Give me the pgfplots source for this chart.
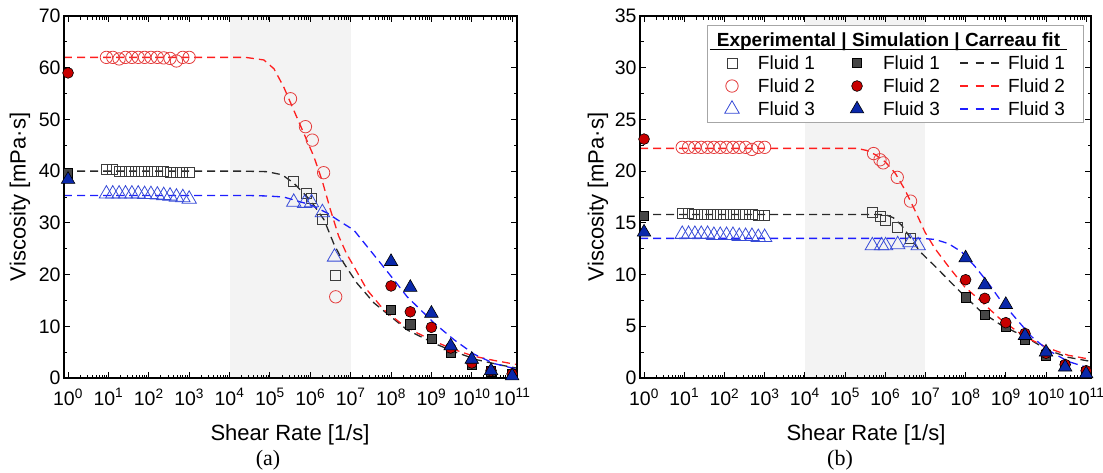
\documentclass[border=0pt]{standalone}
\usepackage{pgfplots}
\pgfplotsset{compat=1.18}
\usepackage{fontspec}
\setmainfont{Liberation Sans}
\newfontfamily\seriffont{Liberation Serif}
\newcommand\tickfont{\fontsize{19.5}{22}\selectfont}
\newcommand\legfont{\fontsize{19}{22}\selectfont}
\newcommand\labfont{\fontsize{22}{26}\selectfont}

\definecolor{expgray}{RGB}{60,60,60}
\definecolor{expred}{RGB}{228,60,60}
\definecolor{expblue}{RGB}{55,75,215}
\definecolor{simgray}{RGB}{70,70,70}
\definecolor{simred}{RGB}{200,0,0}
\definecolor{simblue}{RGB}{10,40,170}
\definecolor{fitblack}{RGB}{40,40,40}
\definecolor{fitred}{RGB}{255,30,30}
\definecolor{fitblue}{RGB}{30,30,255}
\definecolor{bandgray}{RGB}{243,243,243}

\pgfplotsset{
 myfit/.style={line width=1.3pt, dash pattern=on 8pt off 5pt, forget plot, mark=none},
 myexpA/.style={only marks, forget plot, mark=square, mark size=5pt, expgray, mark options={line width=0.8pt, solid}},
 myexpB/.style={only marks, forget plot, mark=o, mark size=6.2pt, expred, mark options={line width=0.8pt, solid}},
 myexpC/.style={only marks, forget plot, mark=triangle, mark size=8.3pt, expblue, mark options={line width=0.8pt, solid}},
 mysimA/.style={only marks, forget plot, mark=square*, mark size=4.6pt, mark options={draw=black, fill=simgray, line width=0.6pt, solid}},
 mysimB/.style={only marks, forget plot, mark=*, mark size=5.4pt, mark options={draw=black, fill=simred, line width=0.6pt, solid}},
 mysimC/.style={only marks, forget plot, mark=triangle*, mark size=7.8pt, mark options={draw=black, fill=simblue, line width=0.6pt, solid}},
 mylegA/.style={legend image code/.code={\path[draw=none,fill=none] (0pt,-9pt) rectangle (36pt,9pt);\draw[##1] plot coordinates {(10pt,0pt)};}},
 mylegB/.style={legend image code/.code={\path[draw=none,fill=none] (0pt,-9pt) rectangle (68pt,9pt);\draw[##1] plot coordinates {(42pt,0pt)};}},
 mylegC/.style={legend image code/.code={\path[draw=none,fill=none] (0pt,-9pt) rectangle (68pt,9pt);\draw[##1,fill=none] (20pt,0pt) -- (63pt,0pt);}},
}

\begin{document}
\begin{tikzpicture}
\useasboundingbox (0pt,0pt) rectangle (1103pt,472pt);

% ================= (a) =================
\begin{axis}[scale only axis, height=362pt, width=453pt,
  xmode=log, xmin=0.794, xmax=1.318e11, ymin=0, ymax=70,
  at={(64pt,94pt)}, anchor=south west,
  axis on top,
  xtick={1,10,100,1000,1e4,1e5,1e6,1e7,1e8,1e9,1e10,1e11},
  xticklabels={10\textsuperscript{0},10\textsuperscript{1},10\textsuperscript{2},10\textsuperscript{3},10\textsuperscript{4},10\textsuperscript{5},10\textsuperscript{6},10\textsuperscript{7},10\textsuperscript{8},10\textsuperscript{9},10\textsuperscript{10},10\textsuperscript{11}},
  minor xtick={2,3,4,5,6,7,8,9,20,30,40,50,60,70,80,90,200,300,400,500,600,700,800,900,2e3,3e3,4e3,5e3,6e3,7e3,8e3,9e3,2e4,3e4,4e4,5e4,6e4,7e4,8e4,9e4,2e5,3e5,4e5,5e5,6e5,7e5,8e5,9e5,2e6,3e6,4e6,5e6,6e6,7e6,8e6,9e6,2e7,3e7,4e7,5e7,6e7,7e7,8e7,9e7,2e8,3e8,4e8,5e8,6e8,7e8,8e8,9e8,2e9,3e9,4e9,5e9,6e9,7e9,8e9,9e9,2e10,3e10,4e10,5e10,6e10,7e10,8e10,9e10},
  ytick={0,10,20,30,40,50,60,70}, minor ytick={5,15,25,35,45,55,65},
  tick align=inside,
  major tick length=6pt, minor tick length=3.5pt,
  tick style={black, line width=0.9pt},
  axis line style={line width=1.3pt},
  ticklabel style={font=\tickfont},
  xticklabel style={yshift=-7pt},
  yticklabel style={/pgf/number format/assume math mode=true}]
\fill[bandgray] (axis cs:1e4,0) rectangle (axis cs:1e7,70);

\addplot[myfit, fitblack] coordinates {(0.794,40.0) (1.995e4,40.0) (8.51e4,39.9) (1.995e5,39.3) (3.89e5,37.7) (1e6,34.4) (2.19e6,30.6) (3.80e6,26.0) (6.76e6,22.2) (1.445e7,18.3) (3.80e7,14.5) (9.77e7,11.9) (2.512e8,9.3) (1.175e9,6.7) (3.631e9,5.1) (1.380e10,3.5) (5.248e10,2.5) (1.318e11,1.9)};
\addplot[myfit, fitred] coordinates {(0.794,62.0) (2.512e4,62.0) (7.08e4,61.5) (1.259e5,59.8) (2.19e5,56.3) (3.89e5,51.8) (6.92e5,47.3) (1.23e6,42.8) (1.995e6,38.0) (3.162e6,32.5) (5.012e6,27.5) (7.943e6,24.0) (1.259e7,21.3) (2.570e7,17.0) (6.607e7,13.2) (1.738e8,10.6) (4.467e8,8.7) (1.175e9,7.1) (3.631e9,5.5) (1.148e10,4.2) (3.548e10,3.4) (1.318e11,2.6)};
\addplot[myfit, fitblue] coordinates {(0.794,35.3) (2.512e4,35.3) (8.51e4,35.2) (2.19e5,35.0) (1e6,33.5) (2.63e6,31.9) (5.62e6,30.2) (1.202e7,28.6) (2.57e7,25.4) (5.50e7,22.2) (1.175e8,19.0) (2.512e8,15.7) (5.37e8,13.2) (1.175e9,10.6) (3.631e9,7.4) (1.148e10,4.6) (3.548e10,2.8) (1.318e11,1.7)};

\addplot[myexpA] coordinates {(8.91,40.3) (12.8,40.3) (18.4,40.0) (26.5,40.0) (38.1,40.0) (54.7,40.0) (78.7,40.0) (113,40.0) (163,40.0) (234,40.0) (336,39.8) (484,39.7) (696,39.7) (1000,39.7) (3.89e5,38.0) (8.13e5,35.6) (1.072e6,34.8) (1.995e6,30.6) (4.169e6,19.8)};
\addplot[myexpB] coordinates {(8.91,62.0) (12.8,62.0) (18.4,61.7) (26.5,62.0) (38.1,62.0) (54.7,62.0) (78.7,62.0) (113,62.0) (163,62.0) (234,61.9) (336,61.8) (484,61.3) (696,62.0) (1000,62.0) (3.236e5,54.0) (7.586e5,48.6) (1.122e6,46.0) (2.138e6,39.7) (4.266e6,15.7)};
\addplot[myexpC] coordinates {(8.91,35.6) (12.8,35.6) (18.4,35.6) (26.5,35.6) (38.1,35.6) (54.7,35.6) (78.7,35.5) (113,35.5) (163,35.4) (234,35.3) (336,35.2) (484,35.0) (696,34.9) (1000,34.6) (3.89e5,34.0) (7.24e5,33.8) (1.072e6,33.9) (1.995e6,32.0) (3.98e6,23.4)};

\addplot[mysimA] coordinates {(1,39.6) (1e8,13.2) (3e8,10.4) (1e9,7.6) (3e9,4.9) (1e10,2.5) (3e10,1.3) (1e11,0.7)};
\addplot[mysimB] coordinates {(1,59.0) (1e8,17.8) (3e8,12.8) (1e9,9.8) (3e9,5.8) (1e10,2.9) (3e10,1.4) (1e11,0.8)};
\addplot[mysimC] coordinates {(1,38.4) (1e8,22.5) (3e8,17.5) (1e9,12.5) (3e9,6.2) (1e10,3.6) (3e10,1.4) (1e11,0.4)};
\end{axis}

% ================= (b) =================
\begin{axis}[scale only axis, height=362pt, width=451pt,
  xmode=log, xmin=0.794, xmax=1.318e11, ymin=0, ymax=35,
  at={(640pt,94pt)}, anchor=south west,
  axis on top,
  xtick={1,10,100,1000,1e4,1e5,1e6,1e7,1e8,1e9,1e10,1e11},
  xticklabels={10\textsuperscript{0},10\textsuperscript{1},10\textsuperscript{2},10\textsuperscript{3},10\textsuperscript{4},10\textsuperscript{5},10\textsuperscript{6},10\textsuperscript{7},10\textsuperscript{8},10\textsuperscript{9},10\textsuperscript{10},10\textsuperscript{11}},
  minor xtick={2,3,4,5,6,7,8,9,20,30,40,50,60,70,80,90,200,300,400,500,600,700,800,900,2e3,3e3,4e3,5e3,6e3,7e3,8e3,9e3,2e4,3e4,4e4,5e4,6e4,7e4,8e4,9e4,2e5,3e5,4e5,5e5,6e5,7e5,8e5,9e5,2e6,3e6,4e6,5e6,6e6,7e6,8e6,9e6,2e7,3e7,4e7,5e7,6e7,7e7,8e7,9e7,2e8,3e8,4e8,5e8,6e8,7e8,8e8,9e8,2e9,3e9,4e9,5e9,6e9,7e9,8e9,9e9,2e10,3e10,4e10,5e10,6e10,7e10,8e10,9e10},
  ytick={0,5,10,15,20,25,30,35}, minor ytick={2.5,7.5,12.5,17.5,22.5,27.5,32.5},
  tick align=inside,
  major tick length=6pt, minor tick length=3.5pt,
  tick style={black, line width=0.9pt},
  axis line style={line width=1.3pt},
  ticklabel style={font=\tickfont},
  xticklabel style={yshift=-7pt},
  yticklabel style={/pgf/number format/assume math mode=true},
  legend columns=3, legend cell align=left,
  legend style={at={(0.1818,0.895)}, anchor=north west, draw=none, fill=none,
    inner sep=0pt, outer sep=0pt, row sep=5pt, column sep=0pt,
    nodes={inner sep=0pt, text height=13.7pt, text depth=0pt}, font=\legfont}]
\fill[bandgray] (axis cs:1e4,0) rectangle (axis cs:1e7,35);
\draw[draw=black!35, fill=white, line width=0.8pt] (rel axis cs:0.1486,0.9751) rectangle (rel axis cs:0.9823,0.7072);
\node[anchor=base west, font=\legfont\bfseries, inner sep=0pt] at (rel axis cs:0.170,0.917) {Experimental | Simulation | Carreau fit};
\draw[black, line width=1.2pt] (rel axis cs:0.155,0.908) -- (rel axis cs:0.947,0.908);

\addlegendimage{mylegA, mark=square, mark size=5pt, expgray, line width=0.8pt}
\addlegendentry{Fluid 1}
\addlegendimage{mylegB, mark=square*, mark size=4.6pt, draw=black, fill=simgray, line width=0.6pt}
\addlegendentry{Fluid 1}
\addlegendimage{mylegC, fitblack, line width=1.3pt, dash pattern=on 8pt off 7.5pt}
\addlegendentry{Fluid 1}
\addlegendimage{mylegA, mark=o, mark size=6.2pt, expred, line width=0.8pt}
\addlegendentry{Fluid 2}
\addlegendimage{mylegB, mark=*, mark size=5.4pt, draw=black, fill=simred, line width=0.6pt}
\addlegendentry{Fluid 2}
\addlegendimage{mylegC, fitred, line width=1.3pt, dash pattern=on 8pt off 7.5pt}
\addlegendentry{Fluid 2}
\addlegendimage{mylegA, mark=triangle, mark size=8.3pt, expblue, line width=0.8pt}
\addlegendentry{Fluid 3}
\addlegendimage{mylegB, mark=triangle*, mark size=7.8pt, draw=black, fill=simblue, line width=0.6pt}
\addlegendentry{Fluid 3}
\addlegendimage{mylegC, fitblue, line width=1.3pt, dash pattern=on 8pt off 7.5pt}
\addlegendentry{Fluid 3}

\addplot[myfit, fitblack] coordinates {(0.794,15.8) (1e6,15.8) (1.585e6,15.5) (2.512e6,14.8) (3.981e6,13.7) (7.41e6,12.2) (1.738e7,10.8) (3.715e7,9.5) (9.55e7,7.9) (2.455e8,6.4) (7.76e8,5.1) (2.951e9,4.0) (1.122e10,2.7) (3.548e10,2.0) (1.318e11,1.6)};
\addplot[myfit, fitred] coordinates {(0.794,22.2) (1.995e5,22.2) (3.467e5,22.0) (5.623e5,21.6) (1e6,20.9) (1.778e6,19.8) (3.09e6,18.2) (5.50e6,16.2) (9.77e6,14.1) (1.738e7,12.5) (3.715e7,10.8) (9.55e7,8.8) (2.455e8,7.4) (7.76e8,5.6) (2.951e9,4.0) (1.122e10,2.9) (3.548e10,2.2) (1.318e11,1.8)};
\addplot[myfit, fitblue] coordinates {(0.794,13.5) (7.943e6,13.5) (1.738e7,13.4) (3.715e7,13.0) (7.943e7,12.2) (1.698e8,10.8) (3.631e8,9.2) (7.76e8,7.4) (1.660e9,5.9) (4.365e9,4.0) (1.122e10,2.7) (3.548e10,1.6) (1.318e11,0.9)};

\addplot[myexpA] coordinates {(8.91,15.9) (12.8,15.9) (18.4,15.8) (26.5,15.8) (38.1,15.8) (54.7,15.8) (78.7,15.8) (113,15.8) (163,15.8) (234,15.8) (336,15.8) (484,15.8) (696,15.7) (1000,15.7) (4.786e5,16.0) (7.586e5,15.6) (1e6,15.2) (1.995e6,14.6) (4.169e6,13.5)};
\addplot[myexpB] coordinates {(8.91,22.3) (12.8,22.3) (18.4,22.3) (26.5,22.3) (38.1,22.3) (54.7,22.3) (78.7,22.3) (113,22.3) (163,22.3) (234,22.3) (336,22.3) (484,22.1) (696,22.3) (1000,22.3) (5.13e5,21.7) (7.41e5,21.1) (8.91e5,20.8) (1.995e6,19.4) (4.266e6,17.1)};
\addplot[myexpC] coordinates {(8.91,13.9) (12.8,13.9) (18.4,13.9) (26.5,13.9) (38.1,13.9) (54.7,13.8) (78.7,13.8) (113,13.8) (163,13.8) (234,13.7) (336,13.7) (484,13.7) (696,13.6) (1000,13.6) (4.786e5,12.8) (8.13e5,12.8) (1.023e6,12.8) (2.042e6,12.9) (4.169e6,13.1) (6.607e6,12.8)};

\addplot[mysimA] coordinates {(1,15.7) (1e8,7.8) (3e8,6.1) (1e9,5.0) (3e9,3.7) (1e10,2.2) (3e10,1.2) (1e11,0.6)};
\addplot[mysimB] coordinates {(1,23.1) (1e8,9.5) (3e8,7.7) (1e9,5.35) (3e9,4.3) (1e10,2.4) (3e10,1.3) (1e11,0.7)};
\addplot[mysimC] coordinates {(1,14.1) (1e8,11.6) (3e8,9.0) (1e9,7.1) (3e9,4.1) (1e10,2.5) (3e10,1.05) (1e11,0.4)};
\end{axis}

\node[rotate=90, font=\labfont] at (20pt,275pt) {Viscosity [mPa·s]};
\node[rotate=90, font=\labfont] at (598pt,275pt) {Viscosity [mPa·s]};
\node[font=\labfont] at (290pt,37pt) {Shear Rate [1/s]};
\node[font=\labfont] at (866pt,37pt) {Shear Rate [1/s]};
\node[font=\seriffont\fontsize{22}{26}\selectfont] at (268pt,12pt) {(a)};
\node[font=\seriffont\fontsize{22}{26}\selectfont] at (840pt,12pt) {(b)};
\end{tikzpicture}
\end{document}
